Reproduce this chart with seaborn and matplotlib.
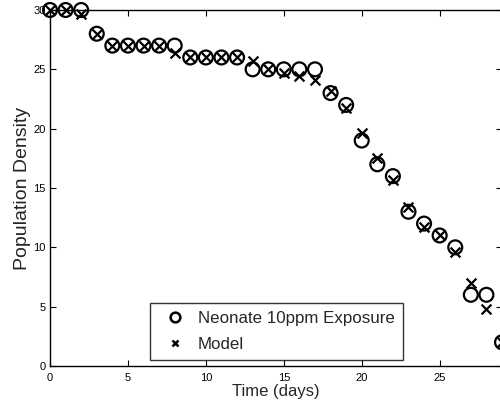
import numpy as np
import pandas as pd
import matplotlib
matplotlib.use("Agg")
import matplotlib.pyplot as plt
import seaborn as sns
from matplotlib.lines import Line2D

days = list(range(0, 30))
observed = [30, 30, 30, 28, 27, 27, 27, 27, 27, 26, 26, 26, 26, 25, 25, 25, 25, 25,
            23, 22, 19, 17, 16, 13, 12, 11, 10, 6, 6, 2]
model = [30, 30, 29.7, 28, 27, 27, 27, 27, 26.4, 26, 26, 26, 26, 25.7, 25, 24.7, 24.4, 24.1,
         23.2, 21.7, 19.6, 17.5, 15.7, 13.4, 11.7, 11.0, 9.6, 7.0, 4.8, 2]
labels = ["Neonate 10ppm Exposure", "Model"]
xticks = [0, 5, 10, 15, 20, 25]
yticks = [0, 5, 10, 15, 20, 25, 30]

sns.set_style("white")
plt.rcParams['font.family'] = ['Liberation Sans', 'DejaVu Sans']

df_obs = pd.DataFrame({"day": days, "value": observed})
df_mod = pd.DataFrame({"day": days, "value": model})

fig = plt.figure(figsize=(5.0, 4.11), dpi=100)
ax = fig.add_axes([50/500, 45/411, 452/500, 356/411])

sns.scatterplot(data=df_obs, x="day", y="value", ax=ax, marker="o", s=100,
                facecolors="none", edgecolor="black", linewidth=1.6, clip_on=False, zorder=3)
sns.scatterplot(data=df_mod, x="day", y="value", ax=ax, marker="x", s=50,
                color="black", linewidth=1.6, clip_on=False, zorder=4)

ax.set_xlim(0, 29)
ax.set_ylim(0, 30)
ax.set_xticks(xticks)
ax.set_yticks(yticks)
ax.tick_params(direction="in", length=4, width=0.8, labelsize=8, top=True, right=True,
               bottom=True, left=True, pad=3, colors="black")
ax.tick_params(axis="x", pad=5)
for s in ax.spines.values():
    s.set_visible(True)
    s.set_color("black")
    s.set_linewidth(1.0)
ax.set_xlabel("Time (days)", fontsize=12, labelpad=1)
ax.set_ylabel("Population Density", fontsize=14, labelpad=2)

handles = [Line2D([], [], marker="o", linestyle="none", markerfacecolor="none",
                  markeredgecolor="black", markersize=7, markeredgewidth=1.8),
           Line2D([], [], marker="x", linestyle="none", color="black",
                  markersize=5, markeredgewidth=1.8)]
leg = ax.legend(handles, labels, loc="lower left", bbox_to_anchor=(100/452, 6/356),
                borderaxespad=0,
                fontsize=12.2, frameon=True, fancybox=False, edgecolor="black",
                handletextpad=0.32, borderpad=0.5, labelspacing=0.6, handlelength=2.0)
leg.get_frame().set_linewidth(1.0)

fig.savefig("out.png", dpi=100)
